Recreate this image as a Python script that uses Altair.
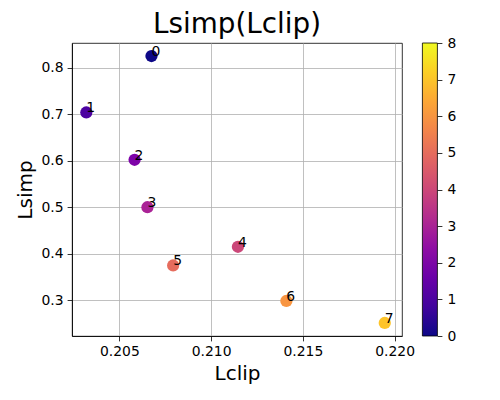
import altair as alt
import pandas as pd

labels = ["0", "1", "2", "3", "4", "5", "6", "7"]
lclip = [0.20675, 0.2032, 0.20583, 0.20653, 0.21146, 0.20793, 0.2141, 0.21946]
lsimp = [0.825, 0.7037, 0.602, 0.500, 0.415, 0.3748, 0.2985, 0.2512]
idx = [0, 1, 2, 3, 4, 5, 6, 7]

x_ticks = [0.205, 0.210, 0.215, 0.220]
y_ticks = [0.3, 0.4, 0.5, 0.6, 0.7, 0.8]
cbar_ticks = [0, 1, 2, 3, 4, 5, 6, 7, 8]
cbar_range = [0, 8]

df = pd.DataFrame({"label": labels, "Lclip": lclip, "Lsimp": lsimp, "idx": idx})
cbar_df = pd.DataFrame({"lo": [cbar_range[0]], "hi": [cbar_range[1]]})

FONT = "DejaVu Sans"
PLASMA = ["#0d0887", "#41049d", "#6a00a8", "#8f0da4", "#b12a90", "#cc4778",
          "#e16462", "#f2844b", "#fca636", "#fcce25", "#f0f921"]

x_enc = alt.X("Lclip:Q",
              scale=alt.Scale(domain=[0.20242, 0.2204], nice=False, zero=False),
              axis=alt.Axis(values=x_ticks, format=".3f", title="Lclip",
                            titleFontSize=20, titleFont=FONT, titleFontWeight="normal",
                            titlePadding=5, titleColor="black"))
y_enc = alt.Y("Lsimp:Q",
              scale=alt.Scale(domain=[0.2232, 0.853], nice=False, zero=False),
              axis=alt.Axis(values=y_ticks, format=".1f", title="Lsimp",
                            titleFontSize=20, titleFont=FONT, titleFontWeight="normal",
                            titlePadding=6, titleColor="black"))

points = alt.Chart(df).mark_circle(size=150, opacity=1).encode(
    x=x_enc,
    y=y_enc,
    color=alt.Color("idx:Q", scale=alt.Scale(scheme="plasma", domain=cbar_range), legend=None),
)

text = alt.Chart(df).mark_text(align="left", baseline="alphabetic", fontSize=13.9,
                               font=FONT, color="black").encode(
    x="Lclip:Q", y="Lsimp:Q", text="label:N"
)

main = alt.layer(points, text)

gradient = alt.LinearGradient(
    gradient="linear",
    stops=[alt.GradientStop(offset=i / (len(PLASMA) - 1), color=c) for i, c in enumerate(PLASMA)],
    x1=0, x2=0, y1=1, y2=0,
)

cbar = alt.Chart(cbar_df).mark_rect(color=gradient, stroke="black", strokeWidth=0.8).encode(
    y=alt.Y("lo:Q", scale=alt.Scale(domain=cbar_range, nice=False, zero=False),
            axis=alt.Axis(orient="right", offset=35, values=cbar_ticks, grid=False,
                          title=None, domain=False, format="d", labelPadding=5)),
    y2="hi:Q",
    x=alt.value(350.4),
    x2=alt.value(365.4),
)

chart = alt.layer(main, cbar).resolve_scale(y="independent").properties(
    width=330, height=293,
    title=alt.TitleParams("Lsimp(Lclip)", fontSize=27.8, font=FONT, fontWeight="normal",
                          color="black", anchor="middle", baseline="top", offset=0, dy=3),
    autosize=alt.AutoSizeParams(type="none"),
    padding={"left": 64, "top": 35, "right": 90, "bottom": 56},
    background="white",
).configure_view(
    stroke="black", strokeWidth=0.8
).configure_axis(
    grid=True, gridColor="#b0b0b0", gridWidth=0.8,
    domainColor="black", domainWidth=0.8,
    tickColor="black", tickWidth=0.8, tickSize=4.9,
    labelFont=FONT, labelFontSize=13.9, labelColor="black", labelPadding=4,
)

chart.save("out.html", embed_options={"renderer": "svg", "actions": False})
